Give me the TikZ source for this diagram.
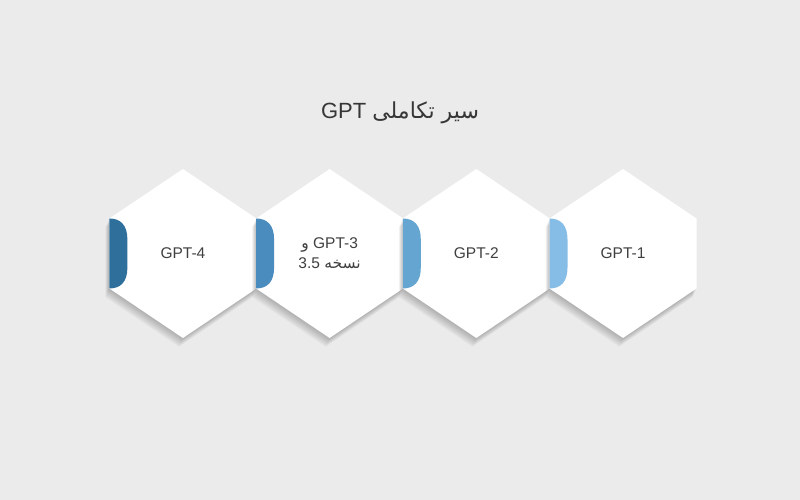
\documentclass[tikz,border=0pt]{standalone}
\usepackage{fontspec}
\setmainfont{Liberation Sans}
\newfontfamily\farsifont[Script=Arabic]{DejaVu Sans}
\TeXXeTstate=1
\usetikzlibrary{backgrounds,positioning}
\definecolor{bggray}{HTML}{EBEBEB}
\definecolor{textgray}{HTML}{404040}
\definecolor{tabone}{HTML}{86BDE6}
\definecolor{tabtwo}{HTML}{65A5D1}
\definecolor{tabthree}{HTML}{4A8CBE}
\definecolor{tabfour}{HTML}{2E6F9C}
\tikzstyle{heading} = [text=textgray!85!black, font=\fontsize{22}{26}\selectfont]
\tikzstyle{hexlabel} = [text=textgray, font=\fontsize{15.5}{20}\selectfont, align=center]
\tikzstyle{hexagon} = [fill=white]
\tikzstyle{hexshadow} = [fill=black, opacity=0.03]
\newcommand{\hexpath}{(0,84.5) -- (73.5,35) -- (73.5,-35) -- (0,-84.5) -- (-73.5,-35) -- (-73.5,35) -- cycle}

\begin{document}
\begin{tikzpicture}[x=1pt, y=1pt, node distance=146.7pt]
\node (title) [heading] at (400,387) {\beginR{\farsifont سیر تکاملی} \beginL GPT\endL\endR};
\node (gpt1) [hexlabel] at (623,246.5) {GPT-1};
\node (gpt2) [hexlabel, left of=gpt1] {GPT-2};
\node (gpt3) [hexlabel, left of=gpt2] {\beginR\beginL GPT-3\endL{} {\farsifont و}\endR\\ \beginR{\farsifont نسخه} \beginL 3.5\endL\endR};
\node (gpt4) [hexlabel, left of=gpt3] {GPT-4};

\begin{pgfonlayer}{background}
\fill[bggray] (0,0) rectangle (800,500);
\foreach \n/\c in {gpt4/tabfour, gpt3/tabthree, gpt2/tabtwo, gpt1/tabone} {
  \begin{scope}[shift={(\n.center)}]
  \foreach \s in {1,...,8}
    \fill[hexshadow, shift={(-0.5*\s,-1.1*\s)}] \hexpath;
  \fill[hexagon] \hexpath;
  \fill[\c] (-73.5,35) .. controls (-62,35) and (-55.5,28) .. (-55.5,14) -- (-55.5,-14) .. controls (-55.5,-28) and (-62,-35) .. (-73.5,-35) -- cycle;
  \end{scope}
}
\end{pgfonlayer}
\end{tikzpicture}
\end{document}
